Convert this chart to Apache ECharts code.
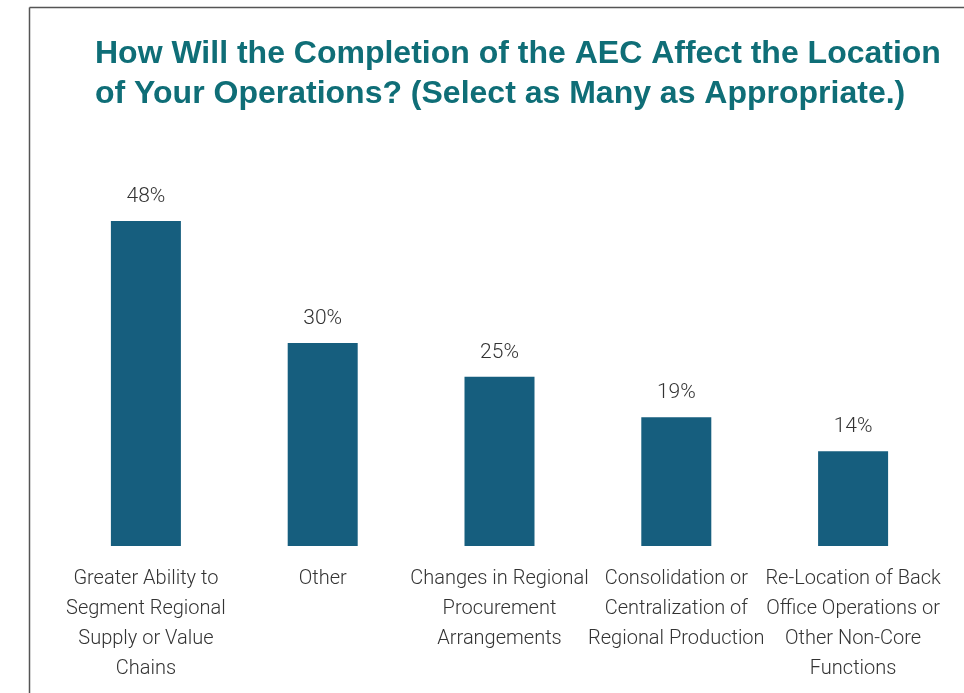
<!DOCTYPE html>
<html><head><meta charset="utf-8">
<script src="https://cdn.jsdelivr.net/npm/echarts@6/dist/echarts.min.js"></script>
<style>html,body{margin:0;padding:0;background:#fff}#c{width:964px;height:693px}</style>
</head><body><div id="c"></div>
<script>
const categories = [
  "Greater Ability to\nSegment Regional\nSupply or Value\nChains",
  "Other",
  "Changes in Regional\nProcurement\nArrangements",
  "Consolidation or\nCentralization of\nRegional Production",
  "Re-Location of Back\nOffice Operations or\nOther Non-Core\nFunctions"
];
const values = [48, 30, 25, 19, 14];
const titleText = "How Will the Completion of the AEC Affect the Location\nof Your Operations? (Select as Many as Appropriate.)";

const narrow = "Roboto, 'DejaVu Sans Condensed', sans-serif";
const chart = echarts.init(document.getElementById('c'));
chart.setOption({
  animation: false,
  title: {
    text: titleText, left: 90, top: 29,
    textStyle: { fontFamily: "'Liberation Sans', Arial, sans-serif", fontWeight: 'bold', fontSize: 32, color: '#0f6e77', lineHeight: 40 }
  },
  graphic: [
    { type: 'line', shape: { x1: 29.5, y1: 7.5, x2: 964, y2: 7.5 }, style: { stroke: '#555', lineWidth: 1.5 } },
    { type: 'line', shape: { x1: 29.5, y1: 7.5, x2: 29.5, y2: 693 }, style: { stroke: '#555', lineWidth: 1.5 } }
  ],
  grid: { left: 57.5, right: 22.5, top: 207.5, bottom: 147 },
  xAxis: {
    type: 'category', data: categories,
    axisLine: { show: false }, axisTick: { show: false },
    axisLabel: { interval: 0, margin: 18, fontFamily: narrow, fontWeight: 300, fontSize: 20, lineHeight: 30, color: '#333' }
  },
  yAxis: { type: 'value', min: 0, max: 50, show: false, splitLine: { show: false } },
  series: [{
    type: 'bar', data: values, barWidth: 70,
    itemStyle: { color: '#165e7e' },
    label: { show: true, position: 'top', distance: 14, formatter: '{c}%', fontFamily: narrow, fontWeight: 300, fontSize: 21, color: '#333' }
  }]
});
</script></body></html>
